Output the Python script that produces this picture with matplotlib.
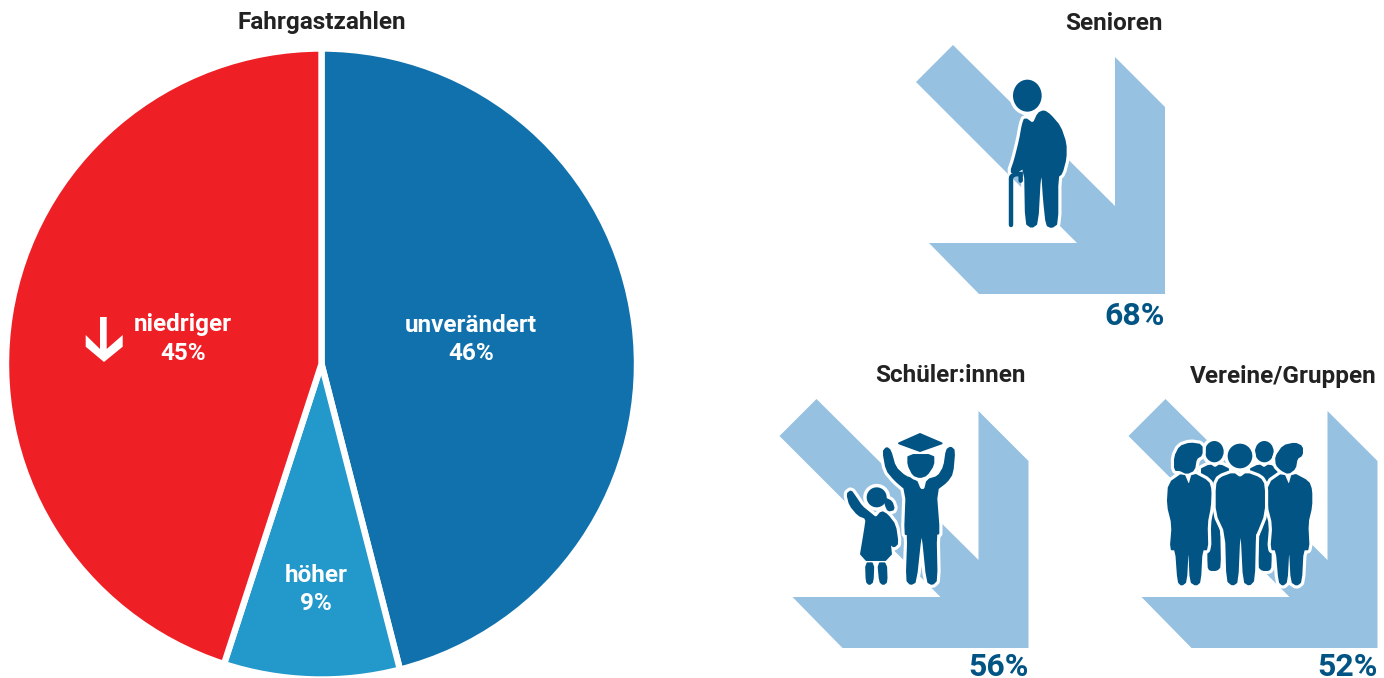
import matplotlib
matplotlib.use("Agg")
import matplotlib.pyplot as plt
from matplotlib.patches import Polygon, Ellipse, PathPatch
from matplotlib.path import Path

# data
pie_labels = ["unverändert", "höher", "niedriger"]
pie_values = [46, 9, 45]
pie_colors = ["#1071AD", "#2398CB", "#EF1F26"]
group_names = ["Senioren", "Schüler:innen", "Vereine/Gruppen"]
group_values = [68, 56, 52]

DARK = "#015484"
LIGHT = "#96C1E1"
TEXT = "#222222"
WIDTH, HEIGHT = 1384, 678

plt.rcParams["font.family"] = ["Roboto", "DejaVu Sans"]
plt.rcParams["font.weight"] = "bold"

fig = plt.figure(figsize=(WIDTH / 100, HEIGHT / 100), dpi=100)
ax = fig.add_axes([0, 0, 1, 1])


def Y(y):
    return HEIGHT - y


# pie
ax.pie(pie_values, colors=pie_colors, center=(321.5, Y(364)), radius=315.5,
       startangle=90, counterclock=False,
       wedgeprops={"edgecolor": "white", "linewidth": 4.6})
ax.set_xlim(0, WIDTH)
ax.set_ylim(0, HEIGHT)
ax.set_aspect("auto")
ax.axis("off")


def label(x, y, s, size=17.5, color="white", ha="center", va="center"):
    ax.text(x, Y(y), s, fontsize=size, color=color, ha=ha, va=va, fontweight="bold")


label(322, 22, "Fahrgastzahlen", color=TEXT)
label(471, 325, pie_labels[0])
label(471, 353, f"{pie_values[0]}%")
label(316, 575, pie_labels[1])
label(316, 603, f"{pie_values[1]}%")
label(183, 325, pie_labels[2])
label(183, 353, f"{pie_values[2]}%")

# small arrow in the red slice
down = [(100, 317), (106.7, 317), (106.7, 349), (122.7, 335), (122.7, 346.7), (104, 362),
        (85.7, 346.7), (85.7, 335), (100, 349)]
ax.add_patch(Polygon([(x, Y(y)) for x, y in down], facecolor="white", edgecolor="none", zorder=3))

# big arrow shape, relative to the Senioren one
big_arrow = [(953, 45), (1115, 206), (1115, 57), (1165, 107), (1165, 294), (979, 294),
             (929, 243), (1077, 243), (916, 82)]
for dx, dy in [(0, 0), (-136.5, 354), (212.5, 354)]:
    ax.add_patch(Polygon([(x + dx, Y(y + dy)) for x, y in big_arrow], facecolor=LIGHT,
                         edgecolor="none", zorder=2))

label(1114, 23, group_names[0], color=TEXT)
label(950, 376, group_names[1], color=TEXT)
label(1283, 376, group_names[2], color=TEXT)
label(1165, 325, f"{group_values[0]}%", size=23, color=DARK, ha="right", va="baseline")
label(1029, 676, f"{group_values[1]}%", size=23, color=DARK, ha="right", va="baseline")
label(1378, 676, f"{group_values[2]}%", size=23, color=DARK, ha="right", va="baseline")


def soften(points, rounds=1):
    # corner cutting, the traced icons are too angular otherwise
    for _ in range(rounds):
        new = []
        for i, (x0, y0) in enumerate(points):
            x1, y1 = points[(i + 1) % len(points)]
            new.append((0.8 * x0 + 0.2 * x1, 0.8 * y0 + 0.2 * y1))
            new.append((0.2 * x0 + 0.8 * x1, 0.2 * y0 + 0.8 * y1))
        points = new
    return points


# icons: traced on a 3x zoom, so coordinates get divided by 3 and moved
def shape(points, ox, oy, z, smooth=True):
    if smooth:
        points = soften(points)
    pts = [(ox + x / 3, Y(oy + y / 3)) for x, y in points]
    ax.add_patch(Polygon(pts, facecolor="white", edgecolor="white", lw=6, joinstyle="round", zorder=z))
    ax.add_patch(Polygon(pts, facecolor=DARK, edgecolor=DARK, lw=1.4, joinstyle="round", zorder=z + 0.5))


def head(cx, cy, rx, ry, ox, oy, z):
    xy = (ox + cx / 3, Y(oy + cy / 3))
    ax.add_patch(Ellipse(xy, 2 * rx / 3, 2 * ry / 3, facecolor="white", edgecolor="white", lw=5, zorder=z))
    ax.add_patch(Ellipse(xy, 2 * rx / 3, 2 * ry / 3, facecolor=DARK, edgecolor="none", zorder=z + 0.5))


# senior
ox, oy = 900, 30
head(382, 197, 43, 48, ox, oy, 4)
shape([(375, 265), (400, 283), (415, 250), (432, 243), (450, 255), (480, 290), (497, 340), (497, 385),
       (485, 430), (472, 440), (472, 580), (455, 592), (440, 585), (432, 510), (427, 435), (420, 435),
       (412, 580), (395, 592), (378, 580), (375, 410), (345, 430), (333, 425), (345, 390), (360, 330),
       (368, 285)], ox, oy, 4)
cane = Path([(ox + 333 / 3, Y(oy + 585 / 3)), (ox + 333 / 3, Y(oy + 445 / 3)), (ox + 333 / 3, Y(oy + 432 / 3)),
             (ox + 362 / 3, Y(oy + 432 / 3)), (ox + 362 / 3, Y(oy + 452 / 3))],
            [Path.MOVETO, Path.LINETO, Path.CURVE3, Path.CURVE3, Path.LINETO])
ax.add_patch(PathPatch(cane, fill=False, edgecolor=DARK, lw=3.2, capstyle="round", zorder=5))

# student and girl
ox, oy = 770, 390
shape([(340, 185), (350, 173), (361, 182), (375, 232), (405, 260), (438, 270), (450, 300), (465, 300),
       (472, 270), (505, 260), (523, 230), (530, 180), (542, 172), (553, 182), (547, 250), (530, 275),
       (497, 300), (507, 430), (497, 432), (500, 570), (487, 583), (472, 575), (458, 435), (452, 435),
       (437, 575), (422, 583), (410, 570), (415, 432), (405, 432), (410, 300), (375, 270), (350, 240)],
      ox, oy, 4)
shape([(387, 160), (450, 132), (515, 160), (450, 183)], ox, oy, 5, smooth=False)
shape([(415, 195), (490, 195), (490, 225), (470, 255), (450, 262), (430, 255), (415, 225)], ox, oy, 5)
head(320, 322, 30, 30, ox, oy, 4)
shape([(345, 325), (365, 335), (372, 358), (355, 362), (347, 345)], ox, oy, 4)
shape([(232, 312), (243, 303), (255, 320), (275, 350), (300, 370), (318, 385), (335, 365), (352, 375),
       (375, 405), (383, 460), (372, 470), (362, 462), (355, 420), (365, 510), (270, 510), (285, 420),
       (290, 385), (265, 375), (240, 345)], ox, oy, 4)
shape([(288, 520), (310, 520), (308, 575), (298, 583), (290, 575)], ox, oy, 4)
shape([(325, 520), (348, 520), (350, 575), (340, 583), (330, 575)], ox, oy, 4)

# group
ox, oy = 1120, 390
back_left = [(240, 240), (270, 225), (285, 235), (300, 225), (330, 240), (300, 270), (285, 340), (298, 420),
             (300, 530), (290, 540), (270, 540), (265, 530), (265, 420)]
for mirror in [False, True]:
    pts = [(717 - x, y) if mirror else (x, y) for x, y in back_left]
    shape(pts, ox, oy, 3)
    head(433 if mirror else 283, 185, 28, 32, ox, oy, 3)
shape([(165, 200), (180, 170), (210, 160), (245, 165), (245, 195), (228, 205), (222, 240), (200, 250),
       (180, 240), (165, 240)], ox, oy, 4)
shape([(147, 280), (190, 250), (207, 290), (218, 250), (265, 275), (272, 300), (270, 350), (260, 400),
       (262, 478), (245, 478), (240, 575), (228, 585), (212, 575), (208, 480), (203, 480), (198, 575),
       (185, 585), (175, 575), (168, 478), (152, 478), (158, 405), (143, 345)], ox, oy, 4)
shape([(468, 200), (490, 168), (525, 160), (546, 170), (546, 195), (530, 205), (525, 235), (505, 250),
       (485, 240), (470, 225)], ox, oy, 4)
shape([(447, 280), (490, 250), (507, 290), (518, 250), (565, 275), (574, 300), (574, 350), (562, 400),
       (566, 478), (548, 478), (543, 575), (530, 585), (515, 575), (510, 480), (505, 480), (500, 575),
       (488, 585), (478, 575), (470, 478), (454, 478), (460, 405), (445, 345)], ox, oy, 4)
head(360, 198, 37, 37, ox, oy, 5)
shape([(290, 285), (300, 265), (340, 250), (360, 265), (380, 250), (420, 265), (432, 285), (432, 370),
       (408, 430), (405, 430), (402, 570), (388, 585), (372, 575), (365, 435), (358, 435), (352, 575),
       (338, 585), (322, 572), (318, 430), (290, 370)], ox, oy, 5)

fig.savefig("out.png", dpi=100)
